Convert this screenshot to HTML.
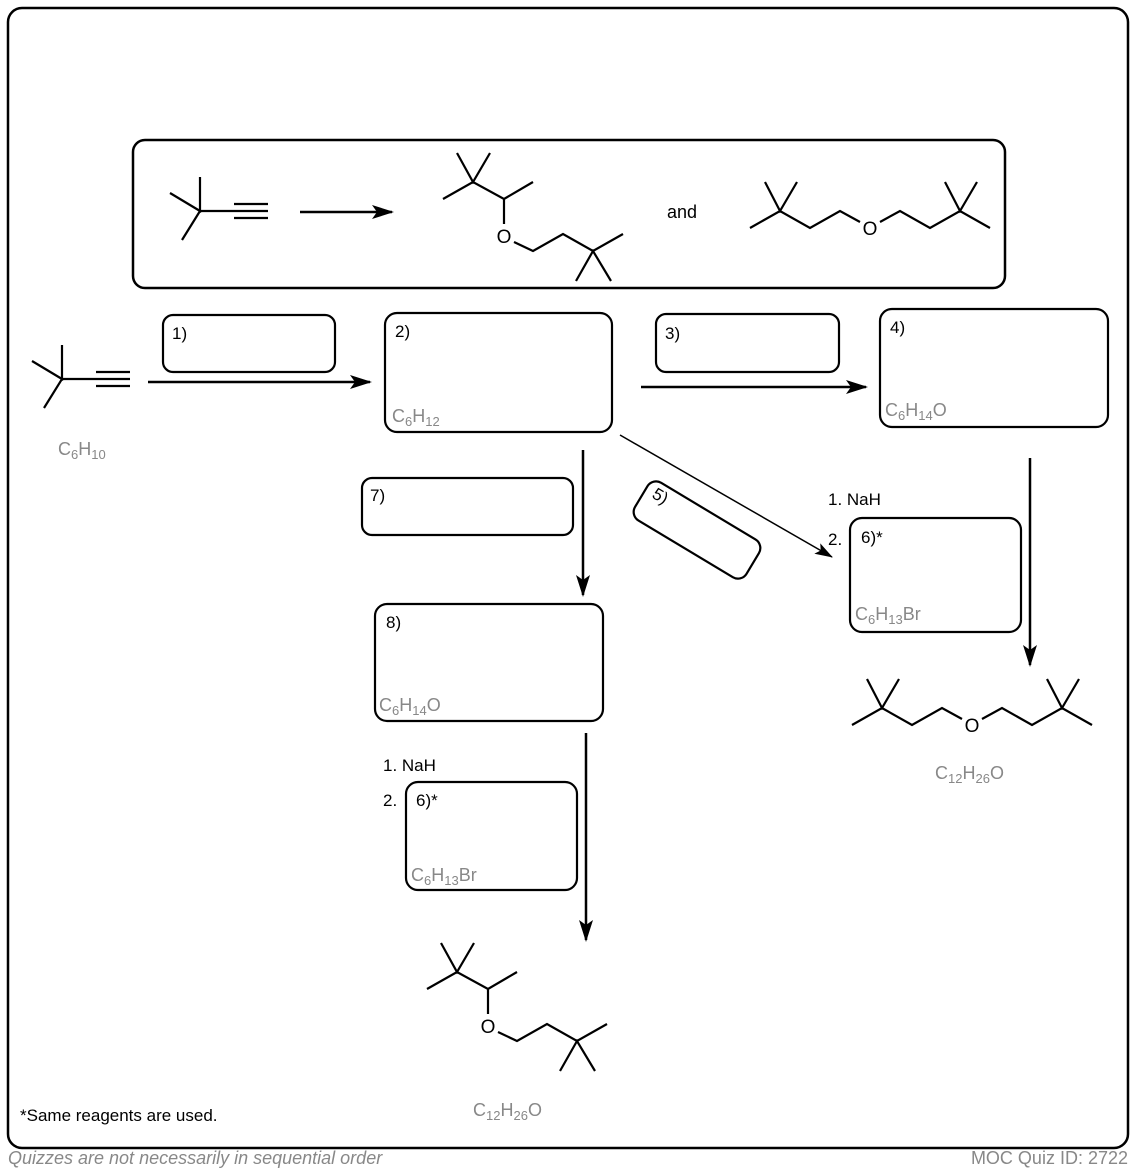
<!DOCTYPE html>
<html><head><meta charset="utf-8"><style>
body{margin:0;background:#fff;}
svg{display:block;font-family:"Liberation Sans",Arial,sans-serif;}
</style></head><body>
<svg width="1136" height="1174" viewBox="0 0 1136 1174" xmlns="http://www.w3.org/2000/svg">
<defs>
<marker id="ah" markerWidth="22" markerHeight="14" refX="20" refY="7" orient="auto" markerUnits="userSpaceOnUse">
<path d="M0,0 L22,7 L0,14 L5,7 Z" fill="#000"/></marker>
<marker id="ah2" markerWidth="18" markerHeight="12" refX="17" refY="6" orient="auto" markerUnits="userSpaceOnUse">
<path d="M0,0 L18,6 L0,12 L4,6 Z" fill="#000"/></marker>
<g id="eth1" fill="none" stroke="#000" stroke-width="2.2">
<path d="M457,153 L473,182 L490,153 M443,199 L473,182 L504,199 L533,182 M504,199 L504,224 M514,242 L533,251 L563,234 L593,251 L623,234 M576,281 L593,251 L611,281"/>
</g>
<g id="eth2" fill="none" stroke="#000" stroke-width="2.2">
<path d="M750,228 L780,211 L810,228 L840,211 L860,222 M880,222 L900,211 L930,228 L960,211 L990,228 M765,182 L780,211 L797,182 M945,182 L960,211 L977,182"/>
</g>
<g id="alk" fill="none" stroke="#000" stroke-width="2.2">
<path d="M170,193 L200,211 L200,177 M182,240 L200,211 L234,211 M234,204 L268,204 M234,211 L268,211 M234,218 L268,218"/>
</g>
</defs>
<rect x="8" y="8" width="1120" height="1140" rx="14" fill="none" stroke="#000" stroke-width="2.5"/>
<rect x="133" y="140" width="872" height="148" rx="12" fill="none" stroke="#000" stroke-width="2.5"/>
<use href="#alk"/>
<line x1="300" y1="212" x2="392" y2="212" stroke="#000" stroke-width="2.5" marker-end="url(#ah)"/>
<use href="#eth1"/>
<text x="504" y="243" font-size="19" text-anchor="middle">O</text>
<text x="682" y="218" font-size="18" text-anchor="middle">and</text>
<use href="#eth2"/>
<text x="870" y="235" font-size="19" text-anchor="middle">O</text>

<use href="#alk" transform="translate(-138,168)"/>
<text x="58" y="455" font-size="18" fill="#888">C<tspan font-size="13" dy="4">6</tspan><tspan dy="-4">H</tspan><tspan font-size="13" dy="4">10</tspan></text>

<g fill="none" stroke="#000" stroke-width="2.2">
<rect x="163" y="315" width="172" height="57" rx="10"/>
<rect x="385" y="313" width="227" height="119" rx="12"/>
<rect x="656" y="314" width="183" height="58" rx="10"/>
<rect x="880" y="309" width="228" height="118" rx="12"/>
<rect x="362" y="478" width="211" height="57" rx="10"/>
<rect x="632" y="508" width="130" height="44" rx="10" transform="rotate(31 697 530)"/>
<rect x="850" y="518" width="171" height="114" rx="12"/>
<rect x="375" y="604" width="228" height="117" rx="12"/>
<rect x="406" y="782" width="171" height="108" rx="12"/>
</g>
<g font-size="17">
<text x="172" y="339">1)</text>
<text x="395" y="337">2)</text>
<text x="665" y="339">3)</text>
<text x="890" y="333">4)</text>
<text x="370" y="501">7)</text>
<text x="0" y="0" transform="translate(651,497) rotate(31)">5)</text>
<text x="861" y="543">6)*</text>
<text x="828" y="505">1. NaH</text>
<text x="828" y="545">2.</text>
<text x="386" y="628">8)</text>
<text x="383" y="771">1. NaH</text>
<text x="383" y="806">2.</text>
<text x="416" y="806">6)*</text>
<text x="20" y="1121">*Same reagents are used.</text>
</g>
<g font-size="18" fill="#888">
<text x="392" y="422">C<tspan font-size="13" dy="4">6</tspan><tspan dy="-4">H</tspan><tspan font-size="13" dy="4">12</tspan></text>
<text x="885" y="416">C<tspan font-size="13" dy="4">6</tspan><tspan dy="-4">H</tspan><tspan font-size="13" dy="4">14</tspan><tspan dy="-4">O</tspan></text>
<text x="855" y="620">C<tspan font-size="13" dy="4">6</tspan><tspan dy="-4">H</tspan><tspan font-size="13" dy="4">13</tspan><tspan dy="-4">Br</tspan></text>
<text x="379" y="711">C<tspan font-size="13" dy="4">6</tspan><tspan dy="-4">H</tspan><tspan font-size="13" dy="4">14</tspan><tspan dy="-4">O</tspan></text>
<text x="411" y="881">C<tspan font-size="13" dy="4">6</tspan><tspan dy="-4">H</tspan><tspan font-size="13" dy="4">13</tspan><tspan dy="-4">Br</tspan></text>
<text x="935" y="779">C<tspan font-size="13" dy="4">12</tspan><tspan dy="-4">H</tspan><tspan font-size="13" dy="4">26</tspan><tspan dy="-4">O</tspan></text>
<text x="473" y="1116">C<tspan font-size="13" dy="4">12</tspan><tspan dy="-4">H</tspan><tspan font-size="13" dy="4">26</tspan><tspan dy="-4">O</tspan></text>
<text x="8" y="1164" font-style="italic">Quizzes are not necessarily in sequential order</text>
<text x="1128" y="1164" text-anchor="end">MOC Quiz ID: 2722</text>
</g>

<g stroke="#000" stroke-width="2.5" marker-end="url(#ah)">
<line x1="148" y1="382" x2="370" y2="382"/>
<line x1="641" y1="387" x2="866" y2="387"/>
<line x1="583" y1="450" x2="583" y2="595"/>
<line x1="1030" y1="458" x2="1030" y2="665"/>
<line x1="586" y1="733" x2="586" y2="940"/>
</g>
<line x1="620" y1="435" x2="832" y2="557" stroke="#000" stroke-width="1.5" marker-end="url(#ah2)"/>

<use href="#eth2" transform="translate(102,497)"/>
<text x="972" y="732" font-size="19" text-anchor="middle">O</text>
<use href="#eth1" transform="translate(-16,790)"/>
<text x="488" y="1033" font-size="19" text-anchor="middle">O</text>
</svg>
</body></html>
